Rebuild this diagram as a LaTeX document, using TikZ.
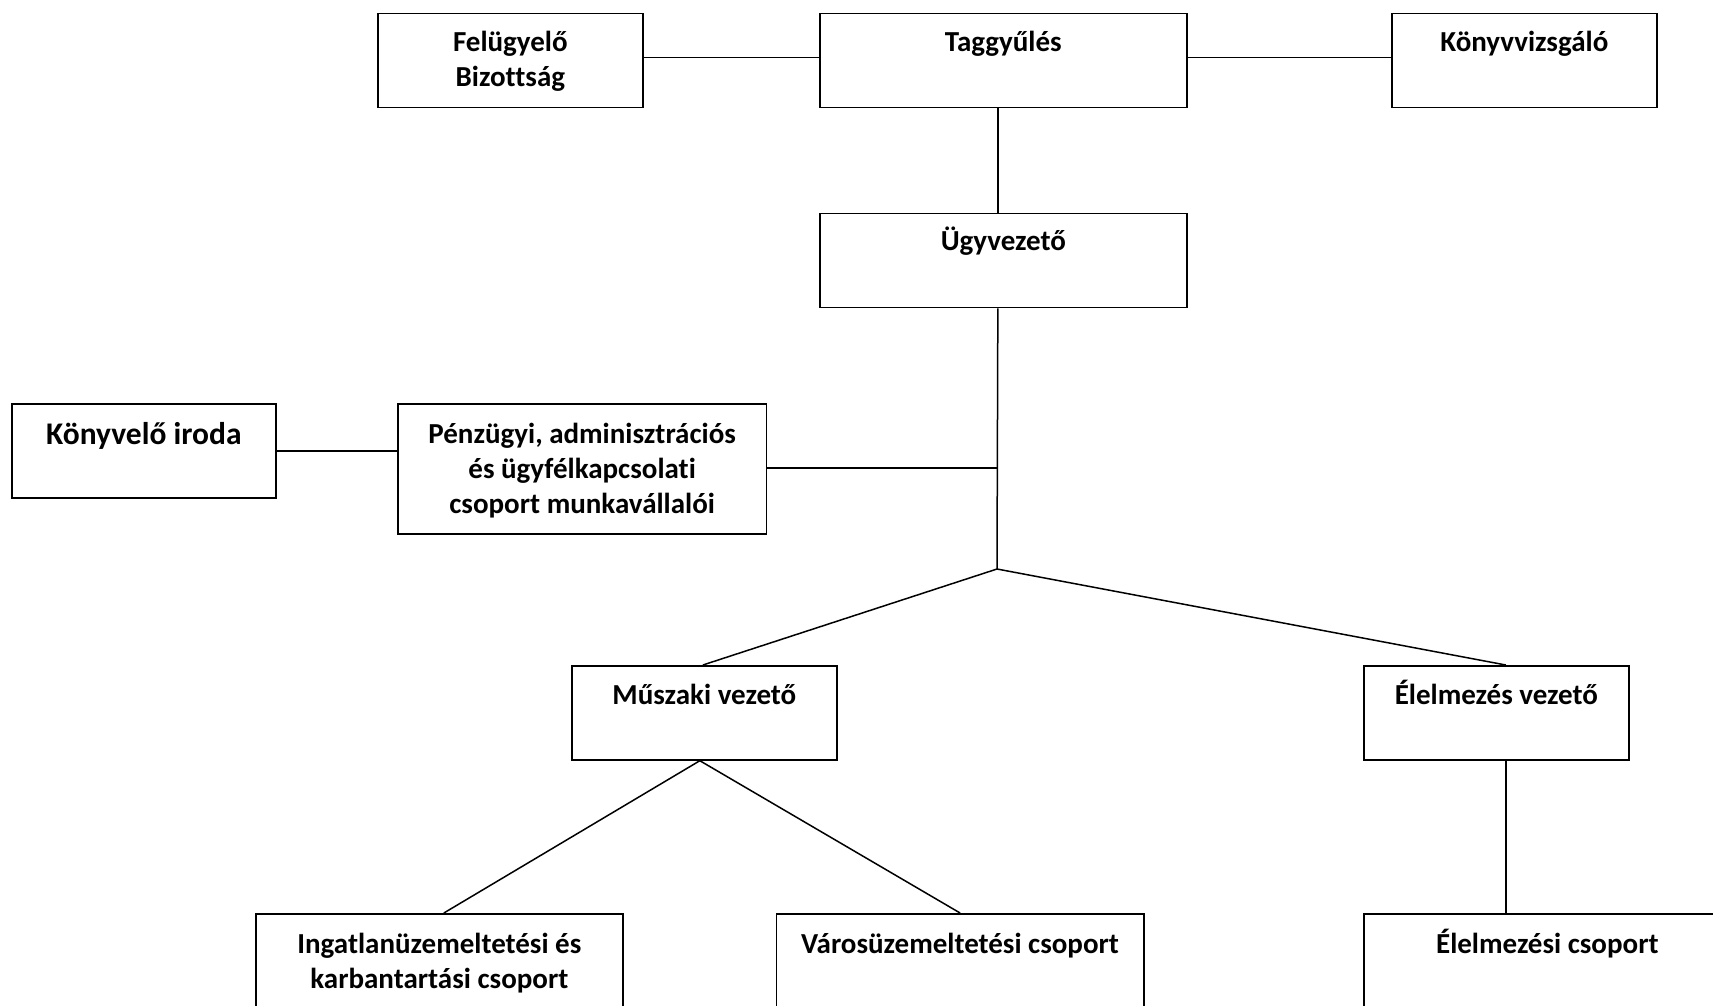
\documentclass[tikz,border=0pt]{standalone}
\usepackage{fontspec}
\setmainfont{Carlito}[Ligatures=NoCommon]
\begin{document}
\begin{tikzpicture}[x=1pt,y=-1pt,
  orgbox/.style={draw, line width=1.7pt, anchor=north west, inner sep=0pt, minimum height=94pt},
  lbl/.style={font=\fontsize{29}{35}\selectfont\bfseries, align=center, inner sep=0pt, anchor=north},
  biglbl/.style={font=\fontsize{31.5}{37}\selectfont\bfseries, align=center, inner sep=0pt, anchor=north},
  conn/.style={line width=1.5pt}]
\useasboundingbox (0,0) rectangle (1713,1005);
\clip (0,0) rectangle (1713,1005);
\fill[white] (0,0) rectangle (1713,1005);
% boxes
\node[orgbox, minimum width=265pt] (fel) at (377,12.7) {};
\node[orgbox, minimum width=367pt] (tag) at (819,12.7) {};
\node[orgbox, minimum width=265pt] (kvz) at (1391,12.7) {};
\node[orgbox, minimum width=367pt] (ugy) at (819,212.7) {};
\node[orgbox, minimum width=264pt] (kon) at (11,403.3) {};
\node[orgbox, minimum width=368.6pt, minimum height=130pt] (pen) at (397,403.3) {};
\node[orgbox, minimum width=265pt] (mus) at (571,665) {};
\node[orgbox, minimum width=265pt] (elv) at (1363,665) {};
\node[orgbox, minimum width=367pt] (ing) at (255,913) {};
\node[orgbox, minimum width=367.5pt] (var) at (775.5,913) {};
\node[orgbox, minimum width=367pt] (elc) at (1363,913) {};
% labels
\node[lbl] (felt) at ([yshift=-9pt]fel.north) {\rule{0pt}{30pt}Felügyelő\\Bizottság};
\node[lbl] (tagt) at ([yshift=-9pt]tag.north) {\rule{0pt}{30pt}Taggyűlés};
\node[lbl] (kvzt) at ([yshift=-9pt]kvz.north) {\rule{0pt}{30pt}Könyvvizsgáló};
\node[lbl] (ugyt) at ([yshift=-8pt]ugy.north) {\rule{0pt}{30pt}Ügyvezető};
\node[biglbl] (kont) at ([yshift=-11pt]kon.north) {\rule{0pt}{30pt}Könyvelő iroda};
\node[lbl] (pent) at ([yshift=-10pt]pen.north) {\rule{0pt}{30pt}Pénzügyi, adminisztrációs\\és ügyfélkapcsolati\\csoport munkavállalói};
\node[lbl] (must) at ([yshift=-9pt]mus.north) {\rule{0pt}{30pt}Műszaki vezető};
\node[lbl] (elvt) at ([yshift=-9pt]elv.north) {\rule{0pt}{30pt}Élelmezés vezető};
\node[lbl] (ingt) at ([yshift=-10pt]ing.north) {\rule{0pt}{30pt}Ingatlanüzemeltetési és\\karbantartási csoport};
\node[lbl] (vart) at ([yshift=-10pt]var.north) {\rule{0pt}{30pt}Városüzemeltetési csoport};
\node[lbl] (elct) at ([yshift=-10pt]elc.north) {\rule{0pt}{30pt}Élelmezési csoport};
% connectors
\coordinate (J) at (997,569);
\draw[conn] ([yshift=3pt]fel.east) -- ([yshift=3pt]tag.west);
\draw[conn] ([yshift=3pt]tag.east) -- ([yshift=3pt]kvz.west);
\draw[conn] ([xshift=-5.5pt]tag.south) -- ([xshift=-5.5pt]ugy.north);
\draw[conn] ([xshift=-5.5pt]ugy.south) -- (J);
\draw[conn] ([yshift=1.3pt]pen.east) -- ([yshift=1.3pt]pen.east -| J);
\draw[conn] (kon.east) -- (kon.east -| pen.west);
\draw[conn] (J) -- ([xshift=-1.5pt]mus.north);
\draw[conn] (J) -- ([xshift=9.5pt]elv.north);
\draw[conn] ([xshift=9.5pt]elv.south) -- ([xshift=9.5pt]elv.south |- elc.north);
\draw[conn] ([xshift=-4.5pt]mus.south) -- ([xshift=4.5pt]ing.north);
\draw[conn] ([xshift=-4.5pt]mus.south) -- (var.north);
\end{tikzpicture}
\end{document}
